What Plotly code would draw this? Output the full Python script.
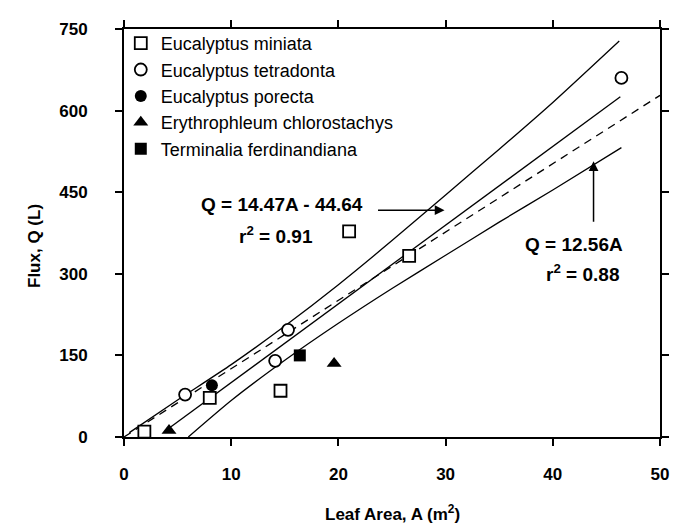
import plotly.graph_objects as go

# ---- data ----
species = ["Eucalyptus miniata", "Eucalyptus tetradonta", "Eucalyptus porecta",
           "Erythrophleum chlorostachys", "Terminalia ferdinandiana"]

miniata_A = [1.9, 8.0, 14.6, 21.0, 26.6]
miniata_Q = [10, 72, 85, 378, 333]

tetradonta_A = [5.7, 14.1, 15.3, 46.4]
tetradonta_Q = [78, 140, 197, 660]

porecta_A = [8.2]
porecta_Q = [95]

erythro_A = [4.2, 19.6]
erythro_Q = [12, 135]

terminalia_A = [16.4]
terminalia_Q = [150]

# fitted line Q = 14.47A - 44.64 and its upper / lower bands
fit_A = [4.0, 46.3]
fit_slope, fit_icpt = 14.47, -44.64
upper_A = [0.5, 5, 10, 15, 20, 25, 30, 35, 40, 46.2]
upper_Q = [8, 68, 133, 204, 280, 361, 445, 529, 615, 728]
lower_A = [6.0, 10, 15, 20, 25, 30, 35, 40, 46.4]
lower_Q = [0, 67, 141, 209, 273, 334, 395, 454, 532]
# line through the origin Q = 12.56A
origin_A = [0, 50]
origin_slope = 12.56

x_ticks = [0, 10, 20, 30, 40, 50]
y_ticks = [0, 150, 300, 450, 600, 750]

FONT = "Liberation Sans, Arial, sans-serif"

fig = go.Figure()

line_style = dict(color="black", width=1.3)
fig.add_trace(go.Scatter(x=upper_A, y=upper_Q, mode="lines", line=dict(line_style, shape="spline", smoothing=0.6),
                         showlegend=False, hoverinfo="skip"))
fig.add_trace(go.Scatter(x=fit_A, y=[fit_slope * a + fit_icpt for a in fit_A], mode="lines",
                         line=line_style, showlegend=False, hoverinfo="skip"))
fig.add_trace(go.Scatter(x=origin_A, y=[origin_slope * a for a in origin_A], mode="lines",
                         line=dict(color="black", width=1.3, dash="8px,6px"),
                         showlegend=False, hoverinfo="skip"))
fig.add_trace(go.Scatter(x=lower_A, y=lower_Q, mode="lines", line=dict(line_style, shape="spline", smoothing=0.6),
                         showlegend=False, hoverinfo="skip"))

fig.add_trace(go.Scatter(x=miniata_A, y=miniata_Q, mode="markers", name=species[0],
                         marker=dict(symbol="square", size=12, color="white",
                                     line=dict(color="black", width=1.8))))
fig.add_trace(go.Scatter(x=tetradonta_A, y=tetradonta_Q, mode="markers", name=species[1],
                         marker=dict(symbol="circle", size=12, color="white",
                                     line=dict(color="black", width=1.8))))
fig.add_trace(go.Scatter(x=porecta_A, y=porecta_Q, mode="markers", name=species[2],
                         marker=dict(symbol="circle", size=12, color="black")))
fig.add_trace(go.Scatter(x=erythro_A, y=erythro_Q, mode="markers", name=species[3],
                         marker=dict(symbol="triangle-up", size=13, color="black")))
fig.add_trace(go.Scatter(x=terminalia_A, y=terminalia_Q, mode="markers", name=species[4],
                         marker=dict(symbol="square", size=12, color="black")))

ann_font = dict(family=FONT, size=19, color="black")
title_font = dict(family=FONT, size=17, color="black")
annotations = [
    dict(x=14.7, y=428, text="<b>Q = 14.47A - 44.64</b>", showarrow=False, font=ann_font),
    dict(x=14.2, y=372, text="<b>r<sup>2</sup> = 0.91</b>", showarrow=False, font=ann_font),
    dict(x=29.9, y=417, text="", showarrow=True, arrowhead=2, arrowsize=1.3, arrowwidth=1.5,
         arrowcolor="black", ax=-68, ay=0),
    dict(x=42.0, y=354, text="<b>Q = 12.56A</b>", showarrow=False, font=ann_font),
    dict(x=42.8, y=302, text="<b>r<sup>2</sup> = 0.88</b>", showarrow=False, font=ann_font),
    dict(x=43.8, y=507, text="", showarrow=True, arrowhead=2, arrowsize=1.3, arrowwidth=1.5,
         arrowcolor="black", ax=0, ay=62),
    dict(xref="paper", yref="paper", x=0.5, y=-0.187, xanchor="center", yanchor="middle",
         text="<b>Leaf Area, A (m<sup>2</sup>)</b>", showarrow=False, font=title_font),
    dict(xref="paper", yref="paper", x=-0.168, y=0.468, xanchor="center", yanchor="middle",
         text="<b>Flux, Q (L)</b>", textangle=-90, showarrow=False, font=title_font),
]

axis_common = dict(showline=True, linecolor="black", linewidth=2, mirror="ticks",
                   ticks="outside", ticklen=7, tickwidth=1.8, tickcolor="black",
                   showgrid=False, zeroline=False,
                   tickfont=dict(family=FONT, size=17, color="black", weight="bold"))

fig.update_layout(
    width=673, height=523,
    margin=dict(l=116, r=15, t=12, b=94),
    paper_bgcolor="white", plot_bgcolor="white",
    font=dict(family=FONT, color="black"),
    annotations=annotations,
    xaxis=dict(range=[0, 50], tickvals=x_ticks, ticktext=[str(v) for v in x_ticks],
               ticklabelstandoff=14, **axis_common),
    yaxis=dict(range=[0, 750], tickvals=y_ticks, ticktext=[str(v) for v in y_ticks],
               ticklabelstandoff=24, **axis_common),
    legend=dict(x=-0.006, y=1.01, xanchor="left", yanchor="top",
                bgcolor="rgba(0,0,0,0)", borderwidth=0,
                font=dict(family=FONT, size=18, color="black"),
                itemwidth=30, tracegroupgap=0),
)

fig.write_html("out.html")
